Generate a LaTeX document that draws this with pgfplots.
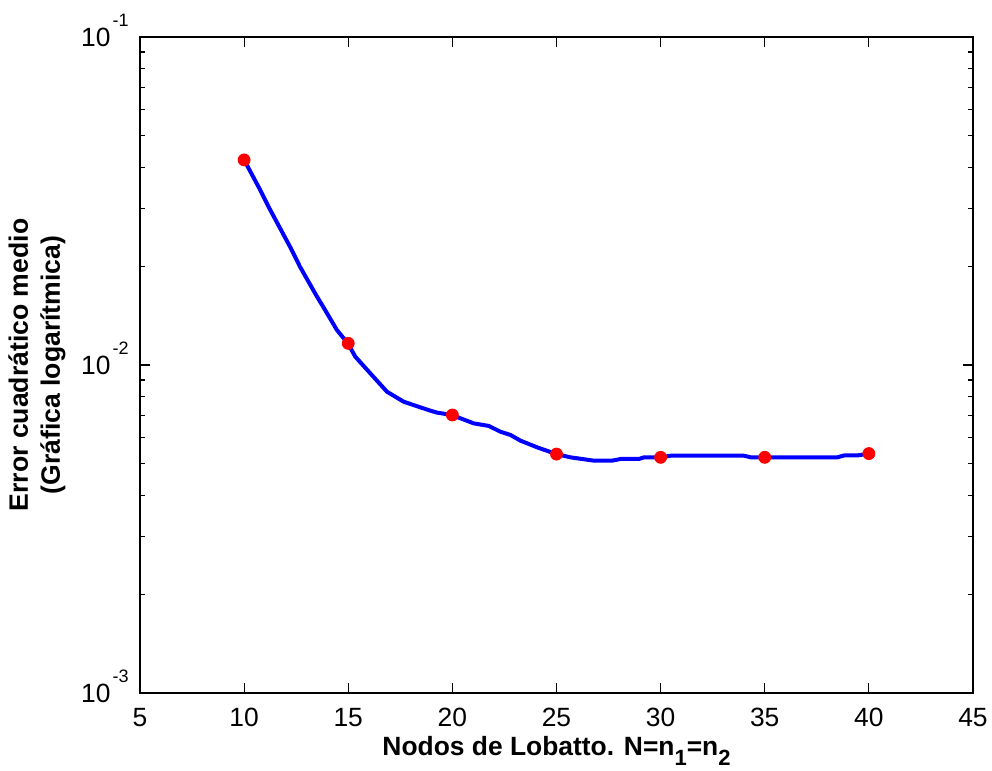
\documentclass[border=0pt]{standalone}
\usepackage{pgfplots}
\pgfplotsset{compat=1.18}
\usepackage{fontspec}
\setmainfont{Liberation Sans}
\newcommand{\tp}[1]{10\hspace{1pt}\raisebox{10pt}{\fontsize{9}{10}\selectfont #1}}
\newcommand{\sub}[1]{\raisebox{-5pt}{\fontsize{11}{12}\selectfont\bfseries #1}}
\begin{document}
\begin{tikzpicture}
\begin{axis}[
  scale only axis, width=416.5pt, height=328pt,
  at={(0,0)}, anchor=south west,
  ymode=log, xmin=5, xmax=45, ymin=1e-3, ymax=1e-1,
  xtick={5,10,...,45},
  ytick={1e-3,1e-2,1e-1},
  yticklabels={\tp{-3},\tp{-2},\tp{-1}},
  /pgf/number format/assume math mode=true,
  tick align=inside,
  major tick length=5pt, minor tick length=2.5pt,
  axis line style={line width=0.8pt},
  every tick/.style={black, line width=0.6pt},
  tick label style={font=\fontsize{13.2}{14}\selectfont},
  xticklabel style={anchor=base, inner sep=0pt, yshift=-16.5pt},
  yticklabel style={anchor=base east, inner sep=0pt, xshift=-5.5pt, yshift=-4.7pt},
  xlabel={\textbf{Nodos de Lobatto. N=n\sub{1}=n\sub{2}}},
  xlabel style={font=\fontsize{13.2}{14}\selectfont\bfseries, at={(axis description cs:0.5,0)}, anchor=base, yshift=-31pt, inner sep=0pt},
  ylabel={Error cuadrático medio\\(Gráfica logarítmica)},
  ylabel style={font=\fontsize{13.3}{16}\selectfont\bfseries, align=center, at={(axis description cs:-0.1237,0.5)}, anchor=center, rotate=0},
]
\addplot[only marks, mark=*, mark size=3pt, red, mark options={draw=red, fill=red}] coordinates {
(10,0.0422) (15,0.01164) (20,0.00704) (25,0.00535) (30,0.00523) (35,0.00523) (40,0.00537)
};
\addplot[blue, line width=2pt, line join=round] coordinates {
(10,0.0422) (10.77,0.0342) (11.17,0.0304) (12.21,0.0229) (12.69,0.0199) (13.49,0.0162)
(13.81,0.0150) (14.45,0.0128) (14.98,0.01164) (15.34,0.0106) (16.06,0.00943) (16.86,0.00829)
(17.66,0.00773) (18.46,0.00743) (18.94,0.00726) (19.26,0.00716) (19.98,0.00704) (21.02,0.00664)
(21.75,0.00652) (22.31,0.00626) (22.79,0.00612) (23.27,0.00588) (24.07,0.00561) (25,0.00535)
(25.67,0.00523) (26.79,0.00511) (27.67,0.00511) (28.08,0.00517) (28.96,0.00517) (29.2,0.00523)
(30,0.00523) (30.48,0.00529) (34,0.00529) (34.33,0.00523) (38.49,0.00523) (38.81,0.00530)
(39.45,0.00530) (40,0.00537)
};
\end{axis}
\pgfresetboundingbox
\path[use as bounding box] (-70pt,-39pt) rectangle (426pt,346.5pt);
\end{tikzpicture}
\end{document}
